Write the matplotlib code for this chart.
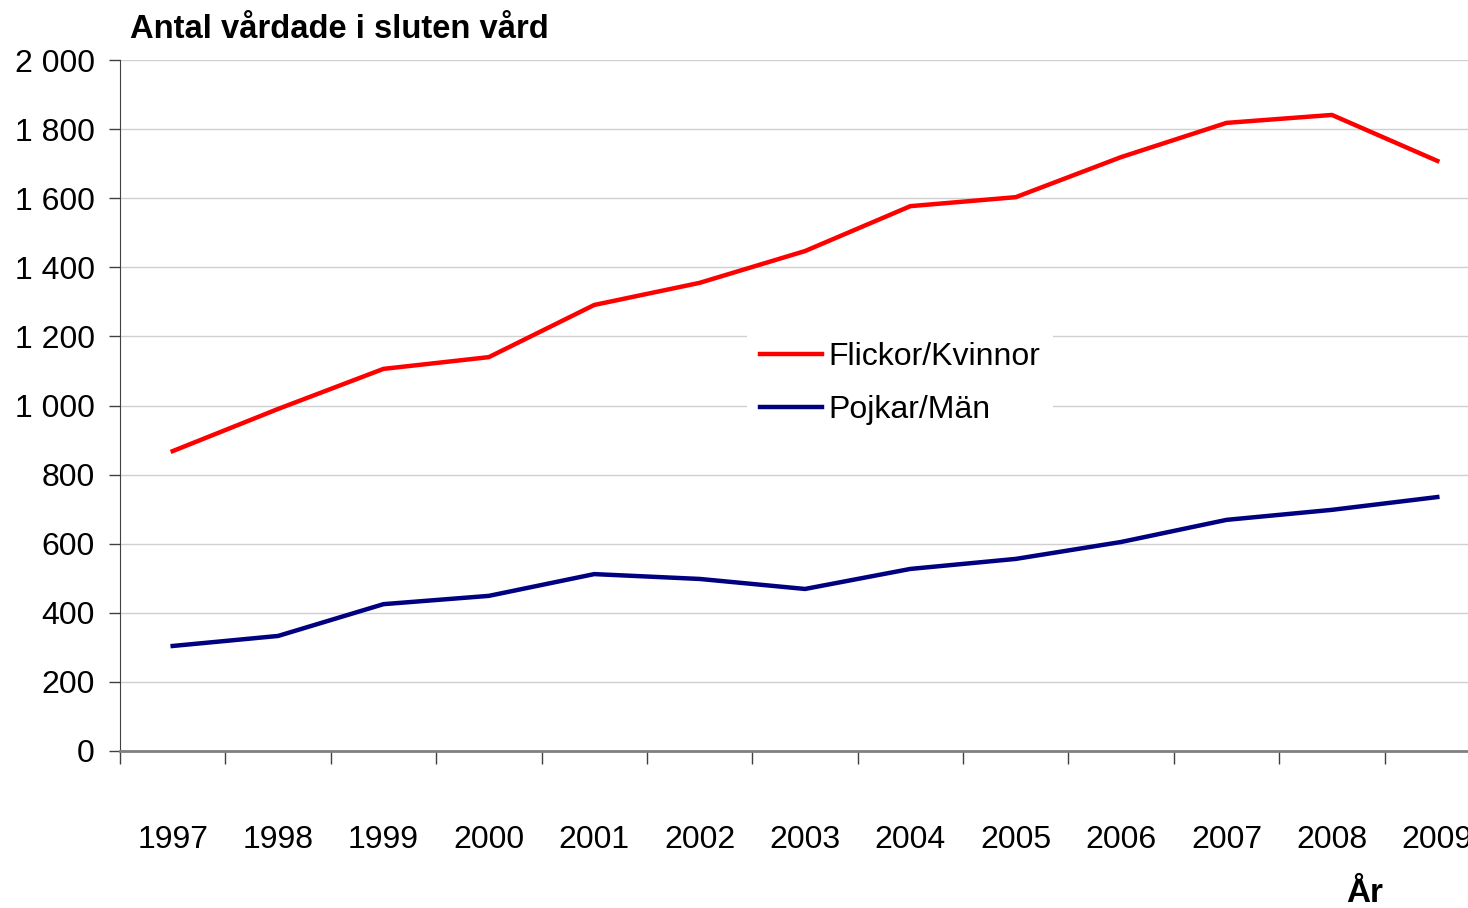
import matplotlib
matplotlib.use("Agg")
import matplotlib.pyplot as plt

years = ["1997", "1998", "1999", "2000", "2001", "2002", "2003",
         "2004", "2005", "2006", "2007", "2008", "2009"]
flickor = [868, 990, 1106, 1140, 1291, 1355, 1447, 1577, 1603, 1719, 1818, 1841, 1708]
pojkar = [304, 333, 425, 449, 512, 498, 469, 527, 556, 605, 669, 698, 735]
yticks = [0, 200, 400, 600, 800, 1000, 1200, 1400, 1600, 1800, 2000]
ytick_labels = ["0", "200", "400", "600", "800", "1 000", "1 200", "1 400",
                "1 600", "1 800", "2 000"]

plt.rcParams['font.family'] = ['Liberation Sans', 'DejaVu Sans']

W, H = 1468, 908
fig = plt.figure(figsize=(W / 100, H / 100), dpi=100)
left, right, top, bottom = 120, 1490, 60, 751
ax = fig.add_axes([left / W, 1 - bottom / H, (right - left) / W, (bottom - top) / H])

x = list(range(len(years)))
ax.plot(x, flickor, color="#ff0000", lw=3.2, label="Flickor/Kvinnor", zorder=3)
ax.plot(x, pojkar, color="#000080", lw=3.2, label="Pojkar/Män", zorder=3)

ax.set_xlim(-0.5, len(years) - 0.5)
ax.set_ylim(0, 2000)
ax.set_yticks(yticks)
ax.set_yticklabels(ytick_labels, fontsize=23)
ax.set_xticks(x)
ax.set_xticklabels(years, fontsize=23)
ax.set_xticks([i - 0.5 for i in range(len(years) + 1)], minor=True)
ax.tick_params(axis='x', which='major', length=0, pad=53)
ax.tick_params(axis='x', which='minor', length=9, width=1, color="#404040")
ax.tick_params(axis='y', length=8, width=1, color="#404040", pad=10)

ax.grid(axis='y', color="#d0d0d0", lw=1)
ax.set_axisbelow(True)
for s in ['top', 'right']:
    ax.spines[s].set_visible(False)
ax.spines['left'].set_color("#404040")
ax.spines['bottom'].set_color("#808080")
ax.spines['bottom'].set_linewidth(2)

leg = ax.legend(loc='upper left',
                bbox_to_anchor=((731 - left) / (right - left), (bottom - 313) / (bottom - top)),
                frameon=True, fontsize=23, handlelength=1.95, handletextpad=0.2,
                borderpad=0.4, labelspacing=0.72)
leg.get_frame().set_edgecolor("none")
leg.get_frame().set_facecolor("white")
leg.get_frame().set_alpha(1)

fig.text(130 / W, 1 - 30 / H, "Antal vårdade i sluten vård", fontsize=23.6,
         fontweight='bold', ha='left', va='center')
fig.text(1365 / W, 1 - 893 / H, "År", fontsize=24, fontweight='bold',
         ha='center', va='center')

fig.savefig("out.png", dpi=100)
